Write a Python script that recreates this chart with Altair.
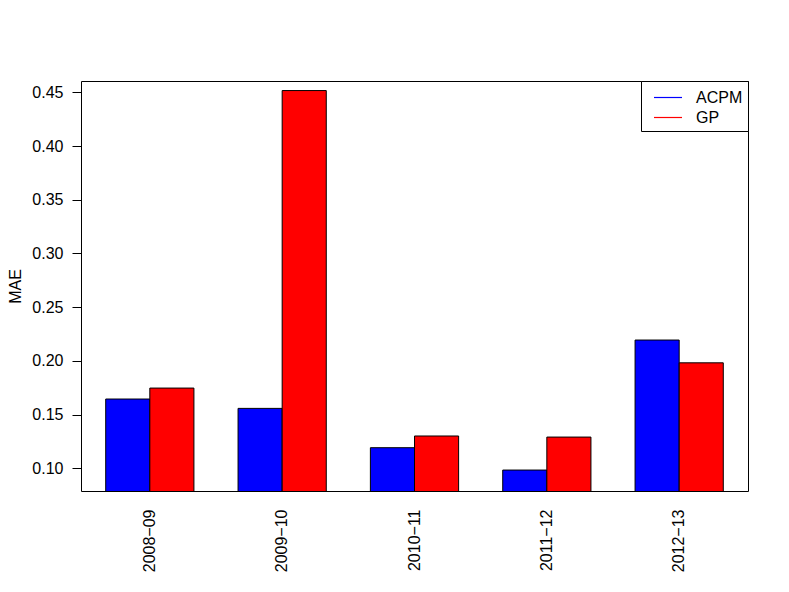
import altair as alt
import pandas as pd

seasons = ["2008\u221209", "2009\u221210", "2010\u221211", "2011\u221212", "2012\u221213"]
series_names = ["ACPM", "GP"]
acpm = [0.1645, 0.1558, 0.1192, 0.0984, 0.2194]
gp = [0.1747, 0.4516, 0.1301, 0.1291, 0.1982]
colors = ["#0000FF", "#FF0000"]
y_ticks = [0.10, 0.15, 0.20, 0.25, 0.30, 0.35, 0.40, 0.45]
y_domain = [0.0789, 0.4605]

rows = []
for s, a, g in zip(seasons, acpm, gp):
    rows.append({"season": s, "series": "ACPM", "MAE": a})
    rows.append({"season": s, "series": "GP", "MAE": g})
df = pd.DataFrame(rows)

FONT = "Liberation Sans"

x_enc = alt.X(
    "season:N",
    sort=seasons,
    scale=alt.Scale(paddingInner=1 / 3, paddingOuter=0.1867),
    axis=alt.Axis(
        title=None, labelAngle=270, ticks=False, tickSize=0, domain=False,
        labelPadding=18, labelFontSize=16, labelFont=FONT, labelColor="black",
    ),
)
y_enc = alt.Y(
    "MAE:Q",
    scale=alt.Scale(domain=y_domain, zero=False, nice=False),
    axis=alt.Axis(
        title="MAE", values=y_ticks, format=".2f", grid=False, domain=False,
        tickSize=9, tickColor="black", labelPadding=9, labelFontSize=16,
        labelFont=FONT, labelColor="black", titleFont=FONT, titleFontSize=16,
        titleFontWeight="normal", titleColor="black", titlePadding=8,
    ),
)

bars = alt.Chart(df).mark_bar(stroke="black", strokeWidth=1, clip=True).encode(
    x=x_enc,
    xOffset=alt.XOffset("series:N", sort=series_names,
                        scale=alt.Scale(paddingInner=0, paddingOuter=0)),
    y=y_enc,
    fill=alt.Fill("series:N", scale=alt.Scale(domain=series_names, range=colors), legend=None),
)

legend_layer = alt.Chart(df).mark_line(strokeOpacity=0, clip=True).encode(
    x=alt.X("season:N", sort=seasons),
    y=alt.Y("MAE:Q"),
    stroke=alt.Stroke(
        "series:N",
        sort=series_names,
        scale=alt.Scale(range=colors),
        legend=alt.Legend(
            title=None, orient="top-right", offset=0, padding=5,
            strokeColor="black", fillColor="white",
            symbolType="M-1.333,0H1.333", symbolSize=441, symbolStrokeWidth=1.2,
            symbolOpacity=1, symbolOffset=10.5, labelOffset=16.5,
            labelFontSize=16, labelFont=FONT, labelColor="black", rowPadding=0,
        ),
    ),
)

chart = alt.layer(bars, legend_layer).properties(
    width=667, height=410,
    autosize=alt.AutoSizeParams(type="none"),
    padding={"left": 73, "top": 73, "right": 20, "bottom": 100},
).configure(background="white").configure_view(stroke="black", strokeWidth=1)

chart.save("out.html", embed_options={"renderer": "svg", "actions": False})
